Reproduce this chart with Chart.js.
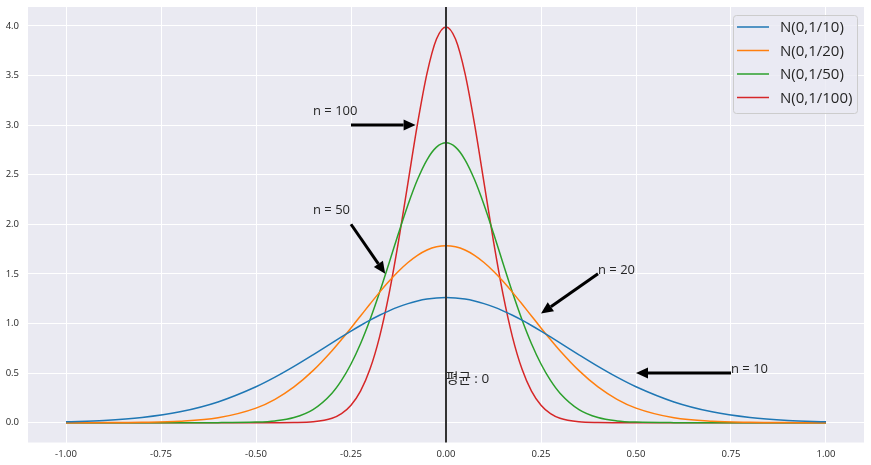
<!DOCTYPE html>
<html>
<head>
<meta charset="utf-8">
<script src="https://cdn.jsdelivr.net/npm/chart.js@4"></script>
<style>
  html, body { margin: 0; padding: 0; background: #fff; }
  #wrap { width: 871px; height: 465px; }
</style>
</head>
<body>
<div id="wrap"><canvas id="chart" width="871" height="465"></canvas></div>
<script>
// --- DATA ---
const xs = [-1, -0.9, -0.8, -0.7, -0.6, -0.5, -0.45, -0.4, -0.35, -0.3, -0.275, -0.25, -0.225, -0.2,
  -0.175, -0.15, -0.125, -0.1, -0.075, -0.05, -0.025, 0, 0.025, 0.05, 0.075, 0.1, 0.125, 0.15, 0.175,
  0.2, 0.225, 0.25, 0.275, 0.3, 0.35, 0.4, 0.45, 0.5, 0.6, 0.7, 0.8, 0.9, 1];

// one half of each curve, from x = 0 outwards (the curves are symmetric about the mean)
const n10Half  = [1.2616, 1.2577, 1.2459, 1.2266, 1.2001, 1.1668, 1.1274, 1.0825, 1.0329, 0.9795, 0.9230,
  0.8643, 0.8044, 0.6838, 0.5669, 0.4584, 0.3615, 0.2085, 0.1089, 0.0514, 0.0220, 0.0085];
const n20Half  = [1.7841, 1.7730, 1.7401, 1.6865, 1.6143, 1.5260, 1.4247, 1.3135, 1.1959, 1.0754, 0.9550,
  0.8375, 0.7254, 0.5241, 0.3602, 0.2355, 0.1464, 0.0487, 0.0133, 0.0030, 0.0005, 0.0001];
const n50Half  = [2.8209, 2.7772, 2.6500, 2.4508, 2.1969, 1.9087, 1.6073, 1.3119, 1.0377, 0.7957, 0.5913,
  0.4258, 0.2973, 0.1319, 0.0517, 0.0179, 0.0054, 0.0003, 0, 0, 0, 0];
const n100Half = [3.9894, 3.8667, 3.5207, 3.0114, 2.4197, 1.8265, 1.2952, 0.8628, 0.5399, 0.3174, 0.1753,
  0.0909, 0.0443, 0.0087, 0.0013, 0.0002, 0, 0, 0, 0, 0, 0];

const seriesNames = ['N(0,1/10)', 'N(0,1/20)', 'N(0,1/50)', 'N(0,1/100)'];
const seriesColors = ['#1f77b4', '#ff7f0e', '#2ca02c', '#d62728'];

const xTicks = [-1, -0.75, -0.5, -0.25, 0, 0.25, 0.5, 0.75, 1];
const yTicks = [0, 0.5, 1, 1.5, 2, 2.5, 3, 3.5, 4];

// annotations: label position, arrow start, arrow tip (data coordinates)
const labels     = ['n = 100', 'n = 50', 'n = 20', 'n = 10'];
const labelPos   = [[-0.35, 3.1], [-0.35, 2.1], [0.4, 1.5], [0.75, 0.5]];
const arrowFrom  = [[-0.25, 3.0], [-0.25, 2.0], [0.4, 1.5], [0.75, 0.5]];
const arrowTo    = [[-0.08, 3.0], [-0.16, 1.5], [0.25, 1.1], [0.5, 0.5]];
const meanLabel  = '평균 : 0';
const meanPos    = [0, 0.4];

const FONT = "'Open Sans', 'Noto Sans CJK KR', sans-serif";
const TEXT = '#262626';

// mirror a half curve onto the full x grid
function fullCurve(half) {
  const mid = xs.indexOf(0);
  return xs.map(x => half[xs.indexOf(Math.abs(x)) - mid]);
}

const datasets = [n10Half, n20Half, n50Half, n100Half].map((half, k) => ({
  label: seriesNames[k],
  data: fullCurve(half).map((y, i) => ({ x: xs[i], y: y })),
  borderColor: seriesColors[k],
  backgroundColor: seriesColors[k],
  borderWidth: 1.5,
  pointRadius: 0,
  cubicInterpolationMode: 'monotone',
  fill: false
}));

// --- PLUGINS ---
const overlay = {
  id: 'overlay',
  afterDatasetsDraw(chart) {
    const { ctx, chartArea, scales } = chart;
    const sx = scales.x, sy = scales.y;
    ctx.save();

    // mean line
    const x0 = sx.getPixelForValue(0);
    ctx.strokeStyle = '#333';
    ctx.lineWidth = 2;
    ctx.beginPath();
    ctx.moveTo(x0, chartArea.top);
    ctx.lineTo(x0, chartArea.bottom);
    ctx.stroke();

    // arrows
    ctx.fillStyle = '#000';
    ctx.strokeStyle = '#000';
    arrowFrom.forEach((p, i) => {
      const ax = sx.getPixelForValue(p[0]), ay = sy.getPixelForValue(p[1]);
      const bx = sx.getPixelForValue(arrowTo[i][0]), by = sy.getPixelForValue(arrowTo[i][1]);
      const ang = Math.atan2(by - ay, bx - ax);
      const headLen = 12, headW = 5.5;
      const hx = bx - headLen * Math.cos(ang), hy = by - headLen * Math.sin(ang);
      ctx.lineWidth = 3;
      ctx.beginPath();
      ctx.moveTo(ax, ay);
      ctx.lineTo(hx, hy);
      ctx.stroke();
      ctx.beginPath();
      ctx.moveTo(bx, by);
      ctx.lineTo(hx - headW * Math.sin(ang), hy + headW * Math.cos(ang));
      ctx.lineTo(hx + headW * Math.sin(ang), hy - headW * Math.cos(ang));
      ctx.closePath();
      ctx.fill();
    });

    // labels
    ctx.fillStyle = TEXT;
    ctx.font = '13px ' + FONT;
    ctx.textAlign = 'left';
    ctx.textBaseline = 'alphabetic';
    labels.forEach((t, i) => {
      ctx.fillText(t, sx.getPixelForValue(labelPos[i][0]), sy.getPixelForValue(labelPos[i][1]));
    });
    ctx.font = '13.5px ' + FONT;
    ctx.fillText(meanLabel, sx.getPixelForValue(meanPos[0]), sy.getPixelForValue(meanPos[1]));

    // legend box (upper right, inside the axes)
    const bx = 733, by = 15, bw = 124, bh = 98;
    ctx.fillStyle = 'rgba(234,234,242,0.8)';
    ctx.strokeStyle = '#cccccc';
    ctx.lineWidth = 1;
    ctx.beginPath();
    ctx.roundRect(bx + 0.5, by + 0.5, bw, bh, 3);
    ctx.fill();
    ctx.stroke();
    ctx.font = '15px ' + FONT;
    ctx.textBaseline = 'middle';
    seriesNames.forEach((name, i) => {
      const yy = by + 12 + i * 23.5;
      ctx.strokeStyle = seriesColors[i];
      ctx.lineWidth = 1.5;
      ctx.beginPath();
      ctx.moveTo(737, yy);
      ctx.lineTo(769, yy);
      ctx.stroke();
      ctx.fillStyle = TEXT;
      ctx.fillText(name, 780, yy + 1);
    });
    ctx.restore();
  }
};

const background = {
  id: 'background',
  beforeDraw(chart) {
    const { ctx, chartArea } = chart;
    ctx.save();
    ctx.fillStyle = '#eaeaf2';
    ctx.fillRect(chartArea.left, chartArea.top, chartArea.right - chartArea.left, chartArea.bottom - chartArea.top);
    ctx.restore();
  }
};

// --- CHART ---
new Chart(document.getElementById('chart'), {
  type: 'line',
  data: { datasets: datasets },
  plugins: [background, overlay],
  options: {
    responsive: false,
    animation: false,
    events: [],
    layout: { padding: { top: 7, right: 7, left: 0, bottom: 0 } },
    plugins: { legend: { display: false }, tooltip: { enabled: false } },
    scales: {
      x: {
        type: 'linear',
        min: -1.1,
        max: 1.1,
        afterBuildTicks: s => { s.ticks = xTicks.map(v => ({ value: v })); },
        afterFit: s => { s.height = 22.5; s.paddingLeft = 0; s.paddingRight = 0; },
        grid: { color: '#ffffff', lineWidth: 1, drawTicks: false },
        border: { display: false },
        ticks: {
          padding: 6,
          color: TEXT,
          font: { family: FONT, size: 9.5 },
          maxRotation: 0,
          callback: v => v.toFixed(2)
        }
      },
      y: {
        type: 'linear',
        min: -0.2,
        max: 4.19,
        afterBuildTicks: s => { s.ticks = yTicks.map(v => ({ value: v })); },
        afterFit: s => { s.width = 28; s.paddingTop = 0; s.paddingBottom = 0; },
        grid: { color: '#ffffff', lineWidth: 1, drawTicks: false },
        border: { display: false },
        ticks: {
          padding: 9,
          color: TEXT,
          font: { family: FONT, size: 9.5 },
          callback: v => v.toFixed(1)
        }
      }
    }
  }
});
</script>
</body>
</html>
